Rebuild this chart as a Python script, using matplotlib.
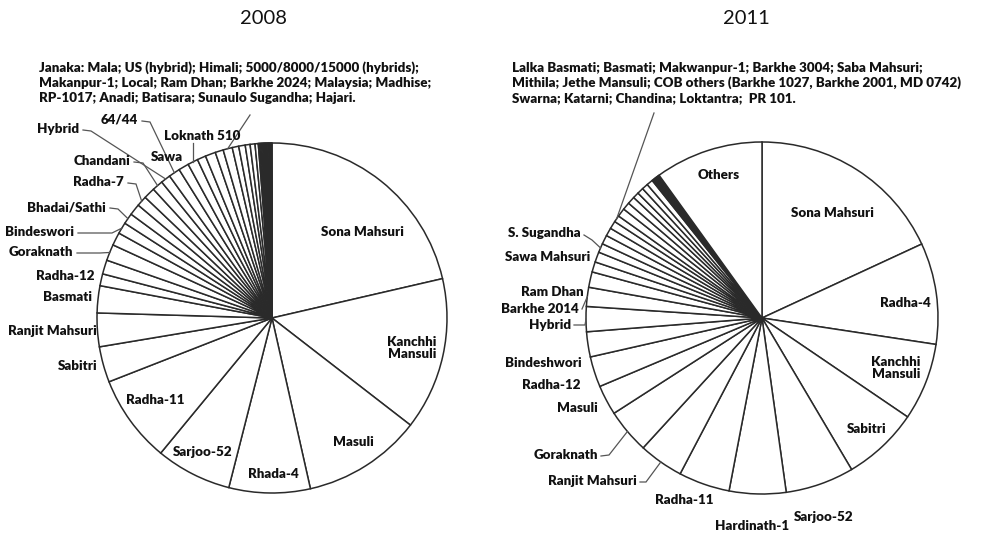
import matplotlib.pyplot as plt
import numpy as np

plt.rcParams['font.family'] = ['Lato', 'DejaVu Sans']

# 2008 - area share (%) of rice varieties, clockwise from 12 o'clock
varieties_2008 = ['Sona Mahsuri', 'Kanchhi\nMansuli', 'Masuli', 'Rhada-4', 'Sarjoo-52',
                  'Radha-11', 'Sabitri', 'Ranjit Mahsuri', 'Basmati',
                  'Radha-12', '', 'Goraknath', '', 'Bindeswori', 'Bhadai/Sathi', '',
                  'Radha-7', '', 'Chandani', 'Hybrid', '64/44', 'Sawa', 'Loknath 510',
                  '', '', '', 'LIST', '', '', '', '', '',
                  '', '', '', '', '', '', '', '', '', '', '', '', '', '', '']
share_2008 = [21.4, 14.1, 11.0, 7.5, 7.0,
              8.1, 3.3, 3.1, 2.5,
              1.1, 1.3, 1.5, 1.2, 1.05, 1.0, 1.05,
              0.95, 1.05, 1.0, 0.9, 1.05, 0.95, 0.95,
              0.8, 0.95, 0.75, 0.85, 0.6, 0.6, 0.45, 0.45, 0.3,
              0.1, 0.1, 0.09, 0.09, 0.09, 0.08, 0.08, 0.08, 0.08, 0.08, 0.08, 0.08, 0.08, 0.07, 0.07]
others_2008 = ('Janaka: Mala; US (hybrid); Himali; 5000/8000/15000 (hybrids);\n'
               'Makanpur-1; Local; Ram Dhan; Barkhe 2024; Malaysia; Madhise;\n'
               'RP-1017; Anadi; Batisara; Sunaulo Sugandha; Hajari.')

# 2011
varieties_2011 = ['Sona Mahsuri', 'Radha-4', 'Kanchhi\nMansuli', 'Sabitri', 'Sarjoo-52',
                  'Hardinath-1', 'Radha-11', 'Ranjit Mahsuri', 'Goraknath', 'Masuli',
                  'Radha-12', 'Bindeshwori', 'Hybrid', 'Barkhe 2014',
                  'Ram Dhan', '', 'Sawa Mahsuri', 'S. Sugandha', '', '', '', 'LIST',
                  '', '', '', '', '', '', '',
                  '', '', '', '', '', '', 'Others']
share_2011 = [18.1, 9.3, 7.1, 7.0, 6.3,
              5.2, 4.7, 4.1, 4.1, 2.75,
              2.8, 2.3, 2.3, 1.75,
              1.42, 0.94, 0.94, 0.83, 0.83, 0.75, 0.72, 0.61,
              0.78, 0.69, 0.69, 0.56, 0.58, 0.56, 0.58,
              0.14, 0.14, 0.13, 0.13, 0.12, 0.12, 9.94]
others_2011 = ('Lalka Basmati; Basmati; Makwanpur-1; Barkhe 3004; Saba Mahsuri;\n'
               'Mithila; Jethe Mansuli; COB others (Barkhe 1027, Barkhe 2001, MD 0742)\n'
               'Swarna; Katarni; Chandina; Loktantra;  PR 101.')

W, H = 998, 535
fig = plt.figure(figsize=(W / 100, H / 100), dpi=100)
ax = fig.add_axes([0, 0, 1, 1])


def P(x, y):
    # pixel position (y measured from top) -> data coords
    return x, H - y


# label layout in pixels: name -> (x, y, ha, leader points or None)
layout_2008 = {
    'Sona Mahsuri': (362, 232, 'center', None),
    'Kanchhi\nMansuli': (412, 348, 'center', None),
    'Masuli': (353, 442, 'center', None),
    'Rhada-4': (273, 474, 'center', None),
    'Sarjoo-52': (203, 452, 'center', None),
    'Radha-11': (155, 400, 'center', None),
    'Sabitri': (98, 366, 'right', None),
    'Ranjit Mahsuri': (97, 331, 'right', None),
    'Basmati': (92, 297, 'right', None),
    'Radha-12': (95, 276, 'right', None),
    'Goraknath': (73, 252, 'right', [(77, 253), (100, 253)]),
    'Bindeswori': (74, 232, 'right', [(78, 233), (112, 233)]),
    'Bhadai/Sathi': (106, 207, 'right', [(110, 208), (118, 209)]),
    'Radha-7': (124, 182, 'right', [(128, 183), (136, 184)]),
    'Chandani': (130, 161, 'right', [(134, 162), (143, 163)]),
    'Hybrid': (79, 129, 'right', [(83, 130), (91, 131)]),
    '64/44': (138, 120, 'right', [(142, 121), (150, 122)]),
    'Sawa': (167, 157, 'center', None),
    'Loknath 510': (202, 136, 'center', [('arc', 143)]),
    'LIST': (39, 83, 'left', [(250, 115)]),
}
layout_2011 = {
    'Sona Mahsuri': (832, 213, 'center', None),
    'Radha-4': (905, 303, 'center', None),
    'Kanchhi\nMansuli': (896, 368, 'center', None),
    'Sabitri': (867, 429, 'center', None),
    'Others': (719, 175, 'center', None),
    'Sarjoo-52': (824, 517, 'center', None),
    'Hardinath-1': (752, 526, 'center', None),
    'Radha-11': (684, 500, 'center', None),
    'Ranjit Mahsuri': (637, 481, 'right', [(640, 482), (646, 482)]),
    'Goraknath': (598, 455, 'right', [(601, 456), (609, 455)]),
    'Masuli': (598, 408, 'right', None),
    'Radha-12': (581, 385, 'right', None),
    'Bindeshwori': (582, 363, 'right', None),
    'Hybrid': (571, 325, 'right', [(574, 325), (585, 325)]),
    'Barkhe 2014': (579, 309, 'right', [(582, 309)]),
    'Ram Dhan': (584, 292, 'right', None),
    'Sawa Mahsuri': (590, 257, 'right', None),
    'S. Sugandha': (581, 233, 'right', [(584, 235), (592, 240)]),
    'LIST': (512, 83, 'left', [(654, 113)]),
}


def draw_pie(values, names, layout, listing, center, radius, title, title_x):
    cx, cy = P(*center)
    wedges, _ = ax.pie(values, startangle=90, counterclock=False,
                       center=(cx, cy), radius=radius,
                       wedgeprops=dict(facecolor='white', edgecolor='#2a2a2a', linewidth=1.1))
    ax.text(title_x, H - 18, title, ha='center', va='center', fontsize=14.5, color='#111')
    for w, name in zip(wedges, names):
        if name not in layout:
            continue
        x, y, ha, leader = layout[name]
        text = listing if name == 'LIST' else name
        ls = 1.3 if name == 'LIST' else 1.05
        ax.text(*P(x, y), text, ha=ha, va='center', fontsize=9.6, fontweight='heavy',
                color='#111', linespacing=ls)
        if leader is None:
            continue
        mid = np.deg2rad((w.theta1 + w.theta2) / 2)
        ax_x = cx + radius * np.cos(mid)
        ax_y = cy + radius * np.sin(mid)
        pts = []
        for px, py in leader:
            if px == 'arc':
                pts.append((ax_x, H - py))
            else:
                pts.append(P(px, py))
        pts.append((ax_x, ax_y))
        xs, ys = zip(*pts)
        ax.plot(xs, ys, color='#555', lw=0.9, solid_joinstyle='miter')


draw_pie(share_2008, varieties_2008, layout_2008, others_2008, (272, 318), 175, '2008', 264)
draw_pie(share_2011, varieties_2011, layout_2011, others_2011, (762, 318), 176, '2011', 746)

ax.set_xlim(0, W)
ax.set_ylim(0, H)
ax.set_aspect('equal')
ax.axis('off')

fig.savefig('out.png', dpi=100, facecolor='white')
